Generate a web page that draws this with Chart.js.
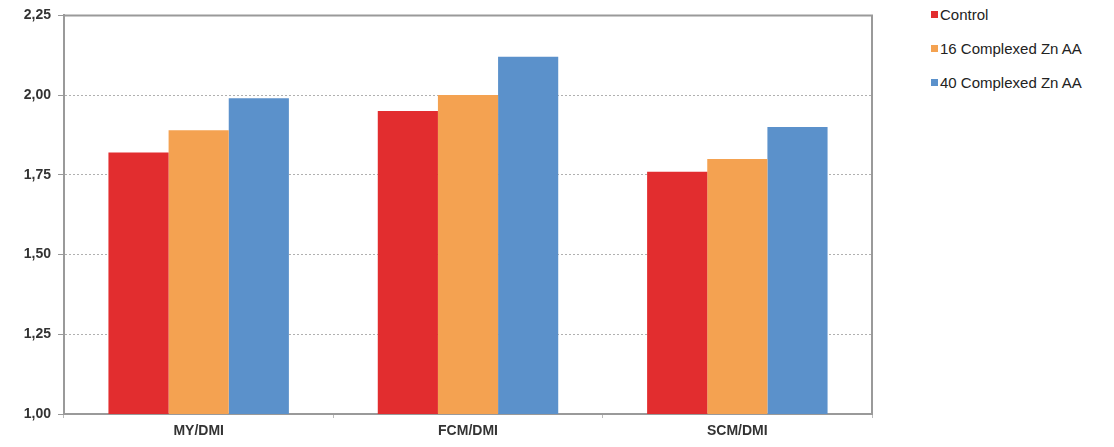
<!DOCTYPE html>
<html>
<head>
<meta charset="utf-8">
<script src="https://cdn.jsdelivr.net/npm/chart.js@4/dist/chart.umd.min.js"></script>
<style>
  html, body { margin: 0; padding: 0; background: #fff; }
  #wrap { position: relative; width: 1114px; height: 447px; }
  #box { position: absolute; left: 0; top: 0; width: 880px; height: 447px; }
  #legend { position: absolute; left: 931px; top: 0; font-family: "Liberation Sans", Arial, sans-serif; font-size: 15px; color: #222; }
  .item { position: absolute; white-space: nowrap; line-height: 16px; }
  .item span.sw { display: inline-block; width: 7px; height: 7px; margin-right: 2px; vertical-align: 2px; }
</style>
</head>
<body>
<div id="wrap">
  <div id="box"><canvas id="Graf1"></canvas></div>
  <div id="legend"></div>
</div>
<script>
const categories = ['MY/DMI', 'FCM/DMI', 'SCM/DMI'];
const seriesNames = ['Control', '16 Complexed Zn AA', '40 Complexed Zn AA'];
const control = [1.82, 1.95, 1.76];
const zn16 = [1.89, 2.00, 1.80];
const zn40 = [1.99, 2.12, 1.90];
const colores = ['#e22d2f', '#f4a251', '#5b91cb'];

const ctx = document.getElementById('Graf1').getContext('2d');

// marco superior y derecho del area
const marco = {
  id: 'marco',
  afterDraw(chart) {
    const a = chart.chartArea;
    const c = chart.ctx;
    c.save();
    c.strokeStyle = '#9a9a9a';
    c.lineWidth = 2;
    c.beginPath();
    c.moveTo(a.left, a.top);
    c.lineTo(a.right, a.top);
    c.lineTo(a.right, a.bottom);
    c.stroke();
    c.restore();
  }
};

const series = [control, zn16, zn40];

const grafBar = new Chart(ctx, {
  type: 'bar',
  data: {
    labels: categories,
    datasets: series.map((vals, i) => ({
      label: seriesNames[i],
      data: vals,
      backgroundColor: colores[i],
      borderWidth: 0,
      barPercentage: 1.0,
      categoryPercentage: 0.67
    }))
  },
  options: {
    responsive: true,
    maintainAspectRatio: false,
    animation: false,
    layout: { padding: { top: 13, right: 8, left: 0, bottom: 0 } },
    plugins: {
      legend: { display: false },
      tooltip: { enabled: false }
    },
    scales: {
      x: {
        grid: { drawOnChartArea: false, tickLength: 4, color: '#bbbbbb' },
        border: { color: '#9a9a9a', width: 2 },
        ticks: {
          color: '#333',
          font: { family: 'Liberation Sans, Arial, sans-serif', size: 14, weight: 'bold' },
          padding: 5
        },
        afterFit(scale) { scale.height = 33; }
      },
      y: {
        min: 1.0,
        max: 2.25,
        ticks: {
          stepSize: 0.25,
          color: '#333',
          font: { family: 'Liberation Sans, Arial, sans-serif', size: 14, weight: 'bold' },
          padding: 7,
          callback: v => v.toFixed(2).replace('.', ',')
        },
        grid: {
          color: '#b0b0b0',
          tickBorderDash: [],
          tickColor: '#9a9a9a',
          tickLength: 6
        },
        border: { color: '#9a9a9a', width: 2, dash: [2, 2] },
        afterFit(scale) { scale.width = 64; }
      }
    }
  },
  plugins: [marco]
});

// leyenda
const leg = document.getElementById('legend');
const tops = [7, 41, 75];
seriesNames.forEach((n, i) => {
  const d = document.createElement('div');
  d.className = 'item';
  d.style.top = tops[i] + 'px';
  d.innerHTML = '<span class="sw" style="background:' + colores[i] + '"></span>' + n;
  leg.appendChild(d);
});
</script>
</body>
</html>
